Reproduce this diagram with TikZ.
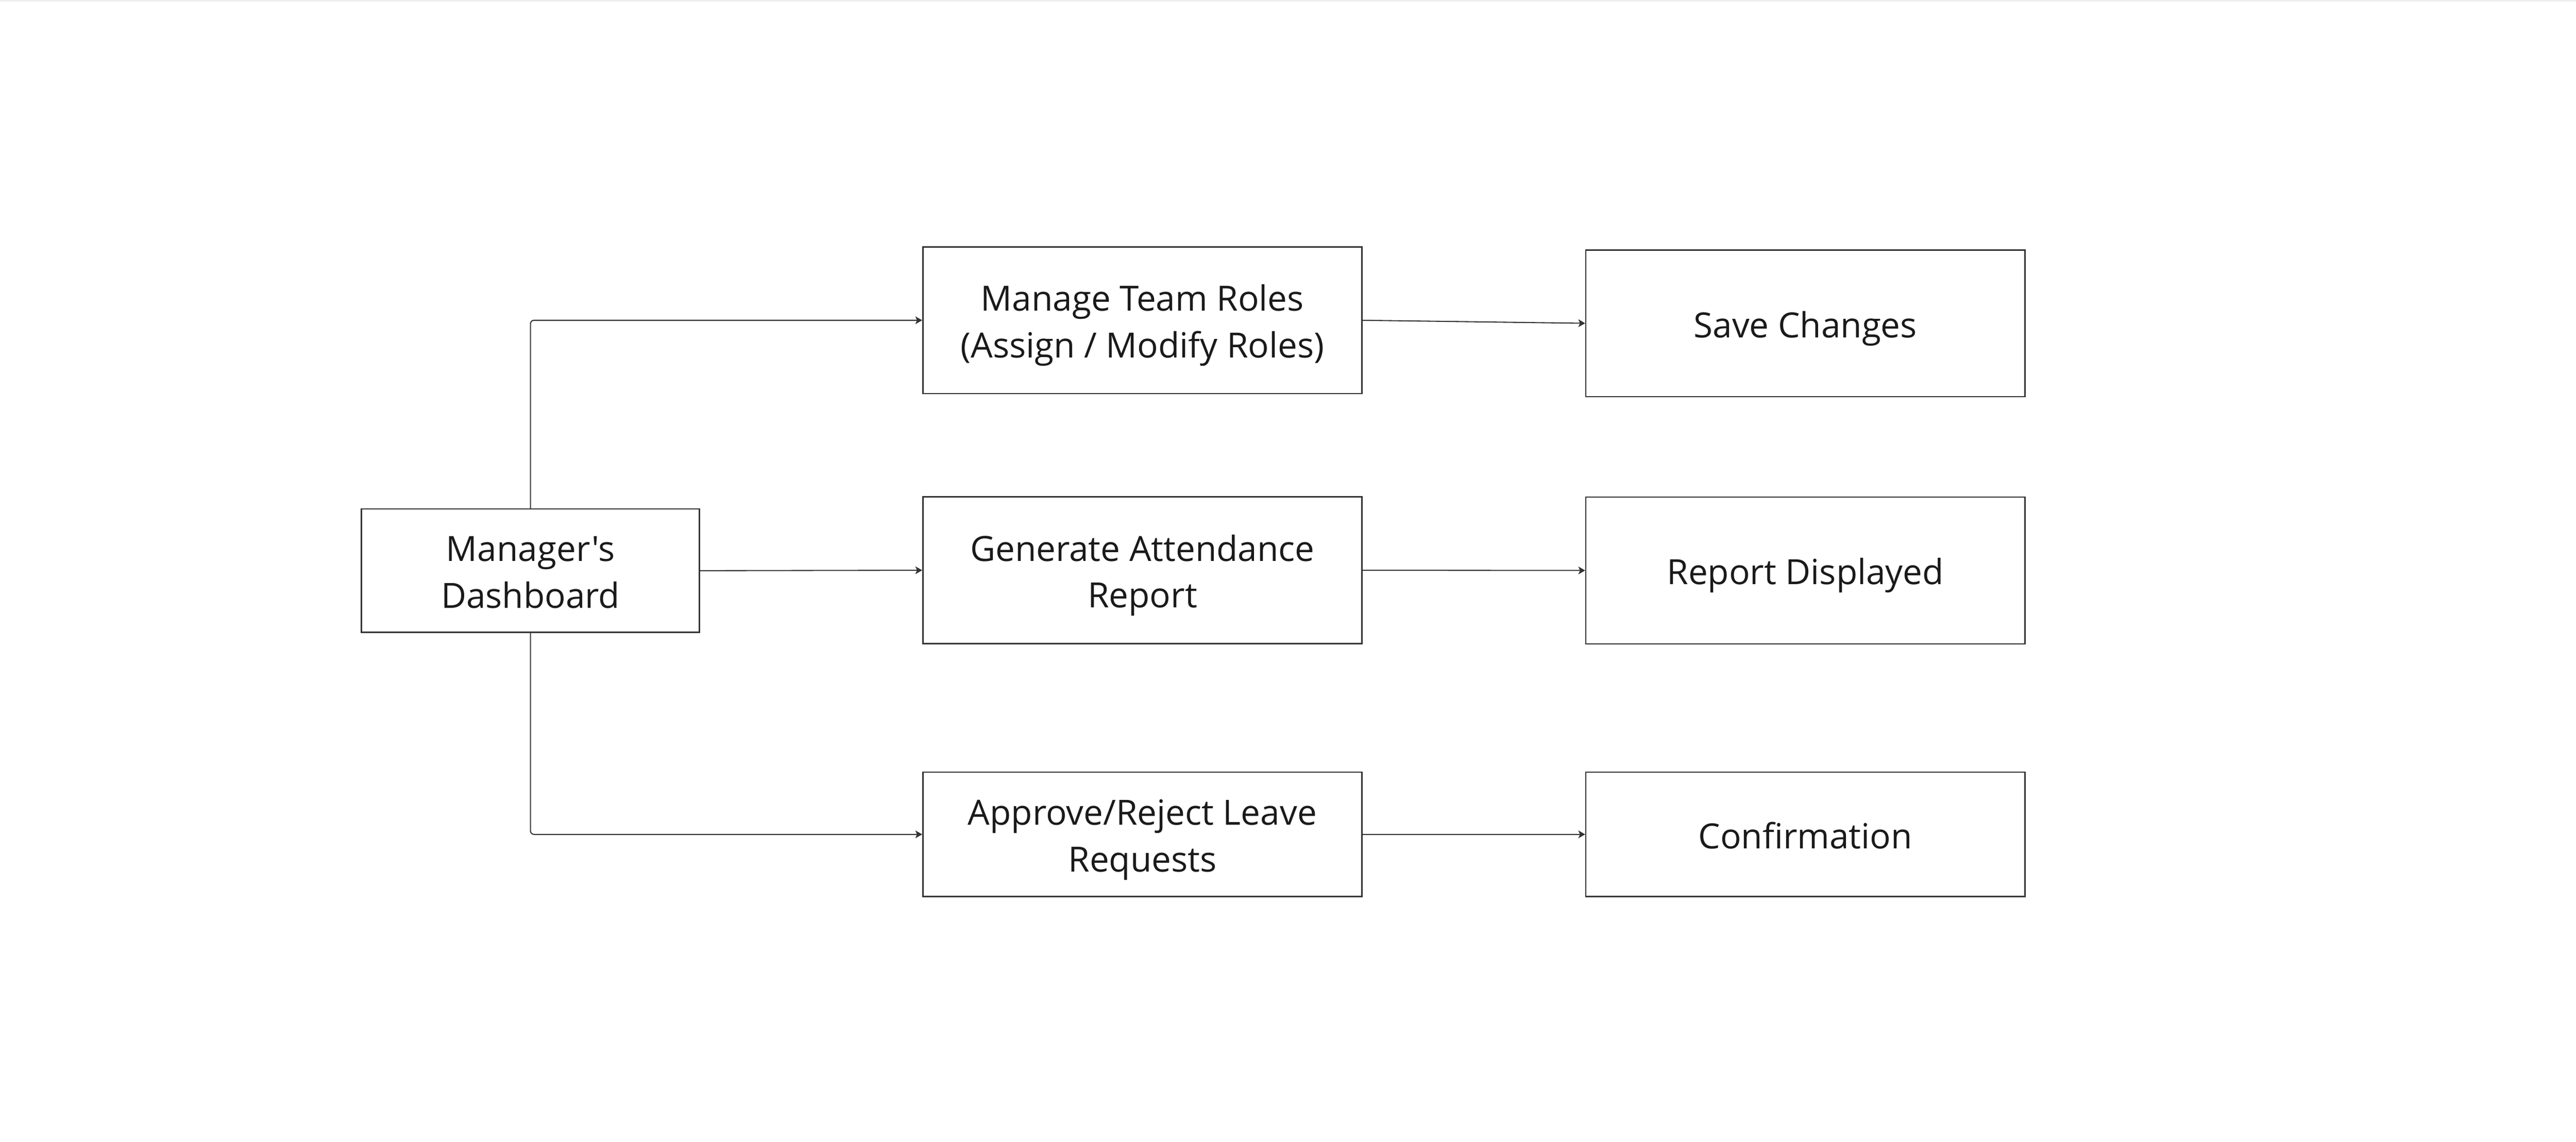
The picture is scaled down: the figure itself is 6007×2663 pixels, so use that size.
\documentclass[tikz,border=0pt]{standalone}
\usepackage{fontspec}
\setmainfont{Open Sans}[Ligatures=TeXOff]
\usetikzlibrary{arrows.meta}
\definecolor{linec}{HTML}{333333}
\definecolor{textc}{HTML}{1A1A1A}
\definecolor{topband}{HTML}{EEEEEE}
\newcommand{\capln}[1]{\raisebox{-0.8pt}[0.714em][0pt]{#1}}
\tikzset{
  box/.style={draw=linec, line width=0.6pt, fill=white, rectangle, align=center,
    inner sep=0pt, text=textc, font=\fontsize{16.2pt}{21.8pt}\selectfont},
  wide/.style={box, minimum width=204.8pt, minimum height=68.4pt},
  widelow/.style={box, minimum width=204.8pt, minimum height=58pt},
  conn/.style={draw=linec, line width=0.5pt, -{Stealth[length=3.2pt,width=3.6pt,inset=0.8pt]}},
}
\begin{document}
\begin{tikzpicture}[x=0.2pt,y=-0.2pt]
\useasboundingbox (0,0) rectangle (6007,2663);
\fill[white] (0,0) rectangle (6007,2663);
\fill[topband] (0,0) rectangle (6007,4);
\node[box, minimum width=157.6pt, minimum height=57.6pt] (mgr) at (1237,1331) {\capln{Manager's}\\\capln{Dashboard}};
\node[wide] (roles) at (2664,747) {\capln{Manage Team Roles}\\\capln{(Assign / Modify Roles)}};
\node[wide] (report) at (2664,1330) {\capln{Generate Attendance}\\\capln{Report}};
\node[widelow] (leave) at (2664,1946) {\capln{Approve/Reject Leave}\\\capln{Requests}};
\node[wide] (save) at (4210,754) {\capln{Save Changes}};
\node[wide] (shown) at (4210,1330.5) {\capln{Report Displayed}};
\node[widelow] (confirm) at (4210,1946) {\capln{Confirmation}};
\draw[conn, rounded corners=1.6pt] (mgr.north) |- (roles.west);
\draw[conn] (mgr.east) -- (report.west);
\draw[conn, rounded corners=1.6pt] (mgr.south) |- (leave.west);
\draw[conn] (roles.east) -- (save.west);
\draw[conn] (report.east) -- (shown.west);
\draw[conn] (leave.east) -- (confirm.west);
\end{tikzpicture}
\end{document}
